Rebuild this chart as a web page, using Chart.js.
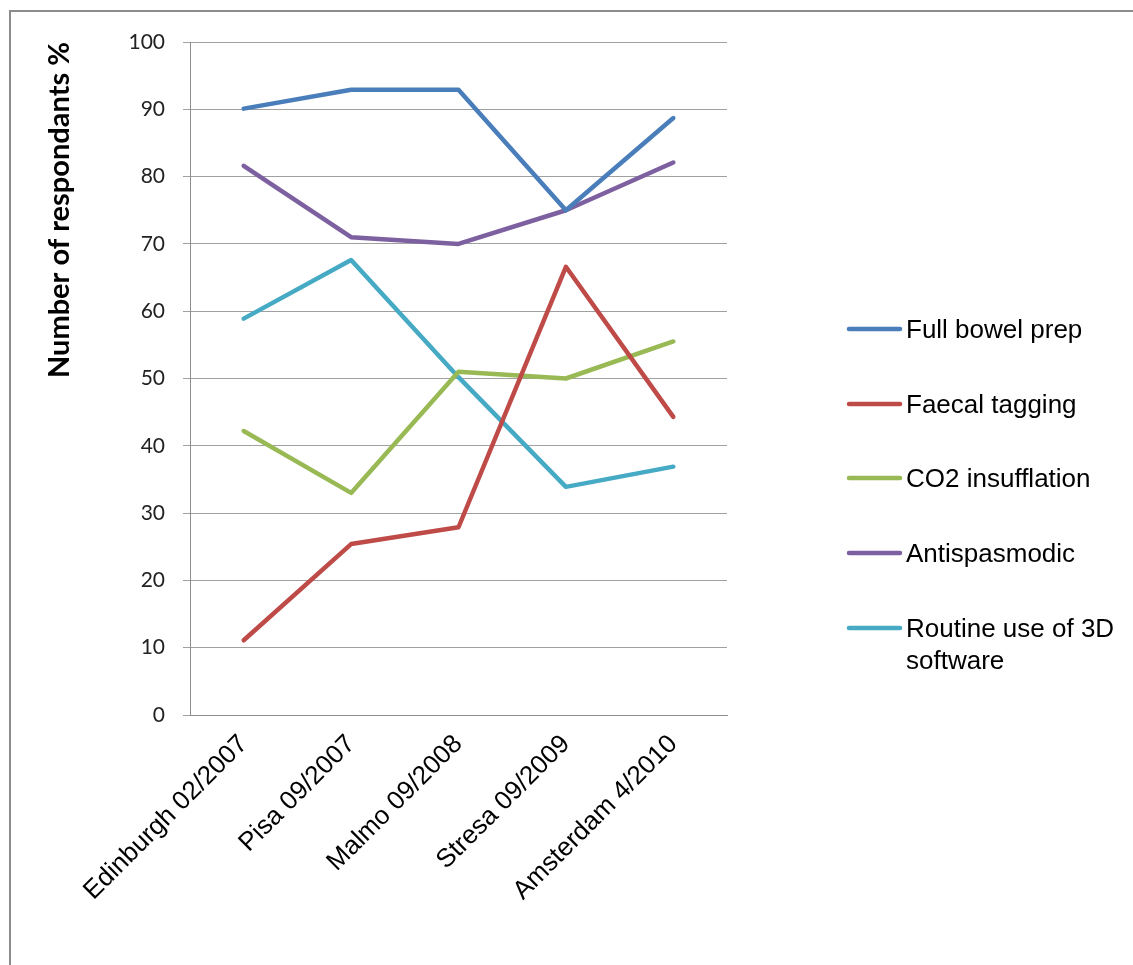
<!DOCTYPE html>
<html>
<head>
<meta charset="utf-8">
<script src="https://cdn.jsdelivr.net/npm/chart.js@4.4.1/dist/chart.umd.min.js"></script>
<style>
html,body{margin:0;padding:0;background:#fff;}
#wrap{position:relative;width:1133px;height:965px;}
</style>
</head>
<body>
<div id="wrap"><canvas id="c" width="1133" height="965"></canvas></div>
<script>
const categories = ["Edinburgh 02/2007", "Pisa 09/2007", "Malmo 09/2008", "Stresa 09/2009", "Amsterdam 4/2010"];
const fullBowelPrep = [90.1, 92.9, 92.9, 75.0, 88.7];
const faecalTagging = [11.1, 25.4, 27.9, 66.6, 44.3];
const co2Insufflation = [42.2, 33.0, 51.0, 50.0, 55.5];
const antispasmodic = [81.6, 71.0, 70.0, 75.0, 82.1];
const routine3D = [58.9, 67.6, 50.2, 33.9, 36.9];
const seriesNames = ["Full bowel prep", "Faecal tagging", "CO2 insufflation", "Antispasmodic", ["Routine use of 3D", "software"]];
const seriesColors = ["#4A7EBB", "#BE4B48", "#98B954", "#7D60A0", "#46AAC5"];
const yTicks = [0, 10, 20, 30, 40, 50, 60, 70, 80, 90, 100];
const yTitle = "Number of respondants %";

const seriesValues = [fullBowelPrep, faecalTagging, co2Insufflation, antispasmodic, routine3D];

const framePlugin = {
  id: 'frame',
  beforeDraw(chart) {
    const ctx = chart.ctx;
    ctx.save();
    ctx.strokeStyle = '#8c8c8c';
    ctx.lineWidth = 2;
    ctx.beginPath();
    ctx.moveTo(10, 965);
    ctx.lineTo(10, 11);
    ctx.lineTo(1133, 11);
    ctx.stroke();
    ctx.restore();
  }
};

const legendPlugin = {
  id: 'customLegend',
  afterDraw(chart) {
    const ctx = chart.ctx;
    const ys = [329, 404, 478, 553, 628];
    ctx.save();
    ctx.font = '26px "Liberation Sans", Arial, sans-serif';
    ctx.textBaseline = 'middle';
    ctx.textAlign = 'left';
    chart.data.datasets.forEach((ds, i) => {
      const y = ys[i];
      ctx.strokeStyle = ds.borderColor;
      ctx.lineWidth = 4.5;
      ctx.lineCap = 'round';
      ctx.beginPath();
      ctx.moveTo(849, y);
      ctx.lineTo(900, y);
      ctx.stroke();
      ctx.fillStyle = '#000';
      const lines = Array.isArray(ds.label) ? ds.label : [ds.label];
      lines.forEach((t, k) => ctx.fillText(t, 906, y + 2 + k * 32));
    });
    ctx.restore();
  }
};

new Chart(document.getElementById('c'), {
  type: 'line',
  data: {
    labels: categories,
    datasets: seriesValues.map((vals, i) => ({
      label: seriesNames[i],
      data: vals,
      borderColor: seriesColors[i],
      backgroundColor: seriesColors[i],
      borderWidth: 4.5,
      pointRadius: 0,
      tension: 0,
      borderJoinStyle: 'round',
      borderCapStyle: 'round',
      fill: false
    }))
  },
  options: {
    responsive: false,
    animation: false,
    layout: { padding: { left: 34, top: 42, right: 406, bottom: 0 } },
    plugins: { legend: { display: false }, tooltip: { enabled: false } },
    scales: {
      x: {
        offset: true,
        grid: { display: false },
        border: { display: true, color: '#8c8c8c', width: 1 },
        ticks: {
          minRotation: 45, maxRotation: 45, padding: 6,
          color: '#000',
          font: { family: '"Liberation Sans", Arial, sans-serif', size: 26 }
        },
        afterFit(scale) { scale.height = 250; }
      },
      y: {
        min: 0, max: 100,
        afterBuildTicks(scale) { scale.ticks = yTicks.map(v => ({ value: v })); },
        grid: { color: '#a0a0a0', lineWidth: 1, tickLength: 7, drawTicks: true },
        border: { display: true, color: '#8c8c8c', width: 1 },
        ticks: {
          padding: 18,
          color: '#222',
          font: { family: 'Lato, "Open Sans", sans-serif', size: 21 }
        },
        title: {
          display: true,
          text: yTitle,
          align: 'end',
          color: '#000',
          padding: { top: 8, bottom: 0 },
          font: { family: 'Lato, "Open Sans", sans-serif', size: 29, weight: 'bold' }
        },
        afterFit(scale) { scale.width = 190 - 34; }
      }
    }
  },
  plugins: [framePlugin, legendPlugin]
});
</script>
</body>
</html>
